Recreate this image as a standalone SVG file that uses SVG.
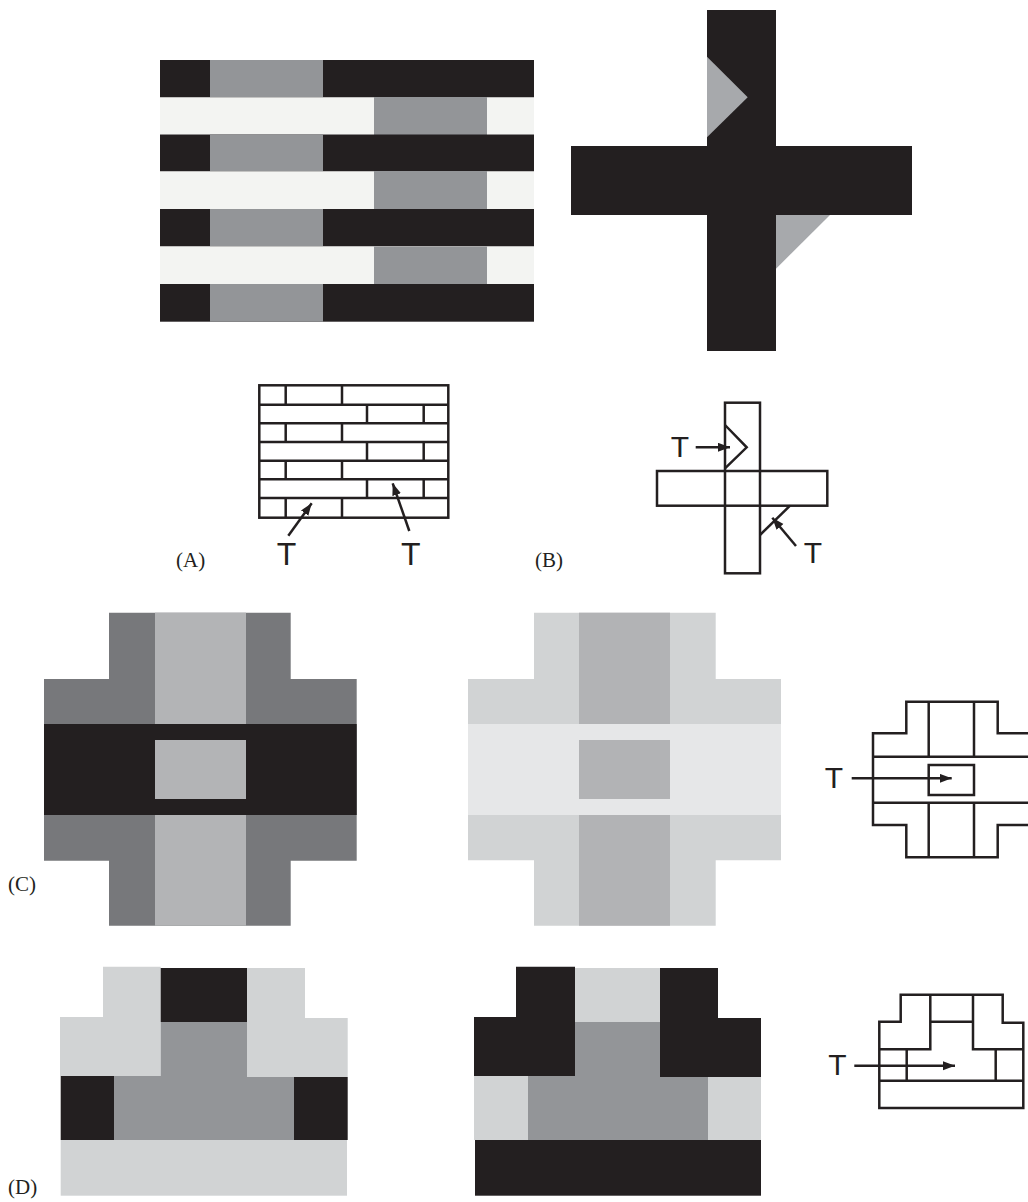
<svg xmlns="http://www.w3.org/2000/svg" width="1028" height="1202" viewBox="0 0 1028 1202">
<style>
.k{fill:#231f20}
.g{fill:#939598}
.lt{fill:#f3f4f2}
.tg{fill:#a7a9ac}
.dg{fill:#77787b}
.mg{fill:#b3b4b6}
.pg{fill:#d1d3d4}
.vg{fill:#e6e7e8}
.ln{fill:none;stroke:#231f20;stroke-width:2.5;stroke-linejoin:miter}
.ar{fill:none;stroke:#231f20;stroke-width:2.5;marker-end:url(#ah)}
.t{font-family:"Liberation Sans",Arial,sans-serif;font-size:30px;fill:#231f20;text-anchor:middle}
.lab{font-family:"Liberation Serif","Times New Roman",serif;font-size:21px;fill:#231f20}
</style>
<defs>
<marker id="ah" markerUnits="userSpaceOnUse" markerWidth="13" markerHeight="10" refX="12" refY="4.5" orient="auto">
<path d="M0,0 L12,4.5 L0,9 z" fill="#231f20"/>
</marker>
</defs>
<rect width="1028" height="1202" fill="#ffffff"/>

<g id="panelA-fill">
<rect class="k" x="160" y="60" width="374" height="37.5"/>
<rect class="g" x="210" y="60" width="113" height="37.5"/>
<rect class="lt" x="160" y="97.5" width="374" height="37"/>
<rect class="g" x="374" y="97" width="113" height="38"/>
<rect class="k" x="160" y="134.5" width="374" height="37"/>
<rect class="g" x="210" y="134.5" width="113" height="37"/>
<rect class="lt" x="160" y="171.5" width="374" height="37.5"/>
<rect class="g" x="374" y="171" width="113" height="38.5"/>
<rect class="k" x="160" y="209" width="374" height="37.5"/>
<rect class="g" x="210" y="209" width="113" height="37.5"/>
<rect class="lt" x="160" y="246.5" width="374" height="37.5"/>
<rect class="g" x="374" y="246.5" width="113" height="38"/>
<rect class="k" x="160" y="284" width="374" height="37.7"/>
<rect class="g" x="210" y="284" width="113" height="37.7"/>
</g>

<g id="panelB-fill">
<rect class="k" x="707" y="10" width="69" height="341"/>
<rect class="k" x="571" y="146" width="341" height="69"/>
<polygon class="tg" points="707,56.7 747.7,97.3 707,137.3"/>
<polygon class="tg" points="776,215 830,215 776,268.7"/>
</g>

<g id="panelA-lines">
<rect class="ln" x="259.3" y="385.3" width="189" height="132.4"/>
<path class="ln" d="M259.3,404.7H448.3M259.3,423.3H448.3M259.3,442H448.3M259.3,460.7H448.3M259.3,479.3H448.3M259.3,498H448.3"/>
<path class="ln" d="M285.7,385.3V404.7M342,385.3V404.7M285.7,423.3V442M342,423.3V442M285.7,460.7V479.3M342,460.7V479.3M285.7,498V517.7M342,498V517.7"/>
<path class="ln" d="M367,404.7V423.3M423.7,404.7V423.3M367,442V460.7M423.7,442V460.7M367,479.3V498M423.7,479.3V498"/>
</g>

<g id="panelB-lines">
<rect class="ln" x="725" y="402.7" width="35" height="170.6"/>
<rect class="ln" x="657" y="471" width="170.3" height="34.7"/>
<polyline class="ln" points="725,425 746.7,447.3 725,468.3"/>
<line class="ln" x1="760" y1="535" x2="790" y2="505.7"/>
</g>

<g id="panelC-left">
<polygon class="dg" points="109,612.7 290.7,612.7 290.7,679 356.7,679 356.7,860.7 290.7,860.7 290.7,925.7 109,925.7 109,860.7 44,860.7 44,679 109,679"/>
<rect class="mg" x="155" y="612.7" width="91" height="313"/>
<rect class="k" x="44" y="724" width="312.7" height="91"/>
<rect class="mg" x="155" y="740" width="91" height="59"/>
</g>

<g id="panelC-middle">
<polygon class="pg" points="534,612.7 715.7,612.7 715.7,679 781,679 781,860.3 715.7,860.3 715.7,925.7 534,925.7 534,860.3 468,860.3 468,679 534,679"/>
<rect fill="#b2b3b5" x="579" y="612.7" width="91" height="313"/>
<rect class="vg" x="468" y="724" width="313" height="91"/>
<rect fill="#b2b3b5" x="579" y="740" width="91" height="59"/>
</g>

<g id="panelC-lines">
<path class="ln" d="M1030,733.3H997.7V701.7H906.3V733.3H873V825H906.3V857.3H997.7V825H1030"/>
<path class="ln" d="M873,756.7H1030M873,802.7H1030M928.7,701.7V756.7M974,701.7V756.7M928.7,802.7V857.3M974,802.7V857.3"/>
<rect class="ln" x="928.7" y="765" width="45.3" height="30"/>
</g>

<g id="panelD-left">
<polygon class="pg" points="103,966.7 160.7,966.7 160.7,1076 60,1076 60,1017 103,1017"/>
<rect class="k" x="160.7" y="968" width="86.3" height="54"/>
<polygon class="pg" points="247,968 305,968 305,1018 347.7,1018 347.7,1077 247,1077"/>
<polygon class="g" points="160.7,1022 247,1022 247,1077 294,1077 294,1140 114,1140 114,1076 160.7,1076"/>
<rect class="k" x="60.7" y="1076" width="53.3" height="64"/>
<rect class="k" x="294" y="1077" width="53.7" height="63"/>
<rect class="pg" x="60.7" y="1140" width="286.3" height="55.7"/>
</g>

<g id="panelD-middle">
<polygon class="k" points="516,966.7 575,966.7 575,1076 474,1076 474,1017 516,1017"/>
<rect class="pg" x="575" y="968" width="85" height="54"/>
<polygon class="k" points="660,968 718,968 718,1018 761,1018 761,1077 660,1077"/>
<polygon class="g" points="575,1022 660,1022 660,1077 708,1077 708,1140 528,1140 528,1076 575,1076"/>
<rect class="pg" x="474" y="1076" width="54" height="64"/>
<rect class="pg" x="708" y="1077" width="53" height="63"/>
<rect class="k" x="475" y="1140" width="286" height="55.7"/>
</g>

<g id="panelD-lines">
<path class="ln" d="M900.7,994.7H1002.7V1022.7H1023.3V1108H879.3V1021.7H900.7Z"/>
<path class="ln" d="M930.3,994.7V1049.3H879.3M973,994.7V1049.3H1023.3M930.3,1021.7H973M879.3,1080.7H1023.3M906.7,1049.3V1080.7M995.7,1049.3V1080.7"/>
</g>

<g id="connectors">
<line class="ar" x1="288.3" y1="535.7" x2="311.7" y2="503.3"/>
<line class="ar" x1="409.3" y1="531" x2="392.7" y2="483.3"/>
<line class="ar" x1="695.7" y1="447.3" x2="730" y2="447.3"/>
<line class="ar" x1="796" y1="546" x2="772.3" y2="517.7"/>
<line class="ar" x1="851.7" y1="778.3" x2="951.7" y2="778.3"/>
<line class="ar" x1="854.3" y1="1065.7" x2="955" y2="1065.7"/>
</g>

<g id="labels">
<text class="t" x="286.5" y="565" style="font-size:32px">T</text>
<text class="t" x="410.7" y="565" style="font-size:32px">T</text>
<text class="t" x="680" y="457">T</text>
<text class="t" x="813" y="563">T</text>
<text class="t" x="834" y="788">T</text>
<text class="t" x="837.5" y="1075">T</text>
<text class="lab" x="176" y="567">(A)</text>
<text class="lab" x="535" y="567">(B)</text>
<text class="lab" x="8" y="891">(C)</text>
<text class="lab" x="8" y="1194">(D)</text>
</g>
</svg>
